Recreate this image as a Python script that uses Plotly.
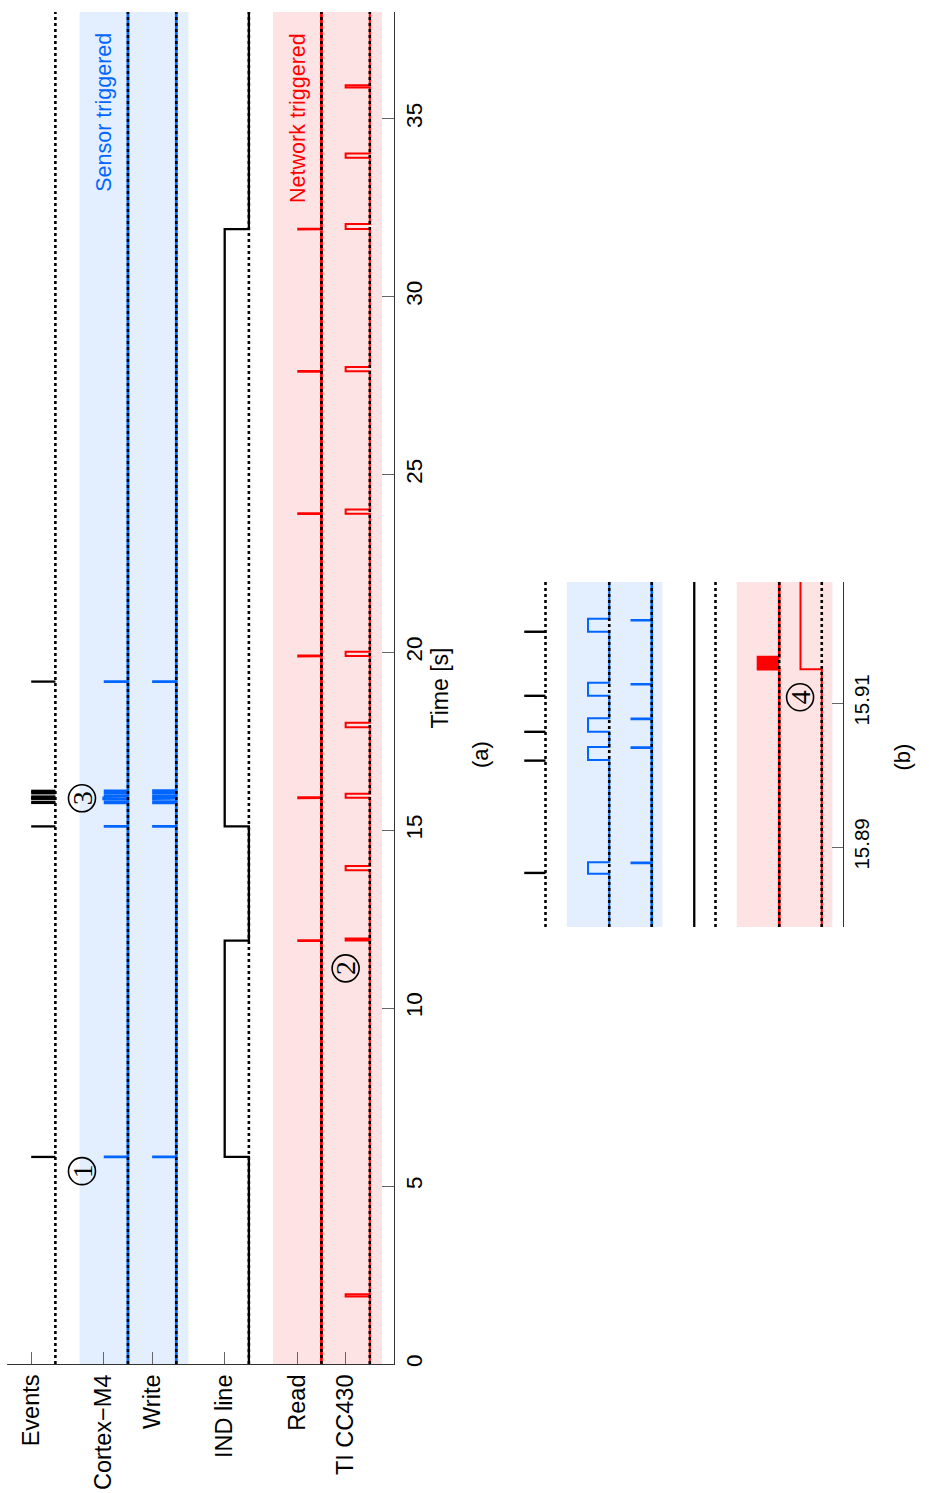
import plotly.graph_objects as go

# ---------------------------------------------------------------------------
# Channel rows (horizontal "level" axis): label position and signal levels
# ---------------------------------------------------------------------------
channel_names = ["Events", "Cortex−M4", "Write", "IND line", "Read", "TI CC430"]
channel_ticks = [1, 4, 6, 9, 12, 14]

# Sensor events [s]
event_times = [5.82, 15.11, 15.77, 15.80, 15.8864, 15.9020, 15.9060, 15.9110,
               15.9199, 15.95, 16.04, 16.08, 16.11, 19.18]

# Cortex-M4 busy intervals [s]
cortex_start = [5.82, 15.11, 15.77, 15.80, 15.8863, 15.9021, 15.9060, 15.9110,
                15.9199, 15.95, 16.04, 16.08, 16.11, 19.18]
cortex_end = [5.8217, 15.1117, 15.7717, 15.8017, 15.8879, 15.9039, 15.9079,
              15.9128, 15.9217, 15.9517, 16.0417, 16.0817, 16.1117, 19.1817]

# Write accesses [s]
write_times = [5.8217, 15.1117, 15.7717, 15.8017, 15.8878, 15.9038, 15.9078,
               15.9126, 15.9215, 15.9517, 16.0417, 16.0817, 16.1117, 19.1817]

# IND line transitions [s]
ind_rise = [5.82, 15.11]
ind_fall = [11.90, 31.90]

# Read bursts [s]
read_start = [11.90, 15.9147, 19.90, 23.90, 27.90, 31.90]
read_end = [11.9017, 15.9164, 19.9017, 23.9017, 27.9017, 31.9017]

# TI CC430 active intervals [s]
ti_start = [1.90, 11.90, 13.88, 15.9147, 17.90, 19.90, 23.90, 27.90, 31.90, 33.90, 35.88]
ti_end = [1.96, 11.96, 14.00, 16.03, 18.02, 20.02, 24.02, 28.02, 32.04, 34.02, 35.94]

# Time ticks
main_ticks = [0, 5, 10, 15, 20, 25, 30, 35]
zoom_ticks = [15.89, 15.91]
zoom_ticktext = ["15.89", "15.91"]

T_MIN, T_MAX = 0.0, 38.0
ZOOM_RANGE = [15.87889, 15.92681]

# signal levels (baseline / high) per channel
EV_BASE, EV_HIGH = 2, 1
CM_BASE, CM_HIGH = 5, 4
WR_BASE, WR_HIGH = 7, 6
IND_BASE, IND_HIGH = 10, 9
RD_BASE, RD_HIGH = 13, 12
TI_BASE, TI_HIGH = 15, 14

BLUE = "#0066ff"
RED = "#ff0000"
BLUE_BAND = "#e3eefe"
RED_BAND = "#fde3e3"
FONT = "Liberation Sans, Arial, sans-serif"
DOTS = "3px,3px"


def step_path(starts, ends, base, high):
    xs, ys = [base], [T_MIN]
    for s, e in zip(starts, ends):
        xs += [base, high, high, base]
        ys += [s, s, e, e]
    xs.append(base)
    ys.append(T_MAX)
    return xs, ys


def spikes(times, base, high):
    xs, ys = [], []
    for t in times:
        xs += [base, high, None]
        ys += [t, t, None]
    return xs, ys


fig = go.Figure()


def add_panel(xa, ya, w_spike, w_line, w_event):
    def line(xs, ys, color, width, dash=None, fill=None):
        fig.add_trace(go.Scatter(
            x=xs, y=ys, mode="lines", xaxis=xa, yaxis=ya,
            line=dict(color=color, width=width, dash=dash),
            fill=fill, fillcolor=color if fill else None,
            hoverinfo="skip", showlegend=False))

    # coloured signals
    x, y = step_path(cortex_start, cortex_end, CM_BASE, CM_HIGH)
    line(x, y, BLUE, w_line if xa == "x2" else w_spike)
    x, y = step_path(write_times, write_times, WR_BASE, WR_HIGH)
    line(x, y, BLUE, w_spike)
    x, y = step_path(read_start, read_end, RD_BASE, RD_HIGH)
    line(x, y, RED, w_spike, fill="toself")
    x, y = step_path(ti_start, ti_end, TI_BASE, TI_HIGH)
    line(x, y, RED, w_line)

    # dotted baselines
    for base in [EV_BASE, CM_BASE, WR_BASE, IND_BASE, RD_BASE, TI_BASE]:
        line([base, base], [T_MIN, T_MAX], "black", 2.6, dash=DOTS)

    # events and IND line
    x, y = spikes(event_times, EV_BASE, EV_HIGH)
    line(x, y, "black", w_event)
    x, y = step_path(ind_rise, ind_fall, IND_BASE, IND_HIGH)
    line(x, y, "black", w_line + 0.3)


add_panel("x", "y", 2.8, 2.0, 2.3)
add_panel("x2", "y2", 2.6, 2.0, 2.4)

# shaded groups
shapes = []
for xr, yr in [("x", "y domain"), ("x2", "y2 domain")]:
    shapes.append(dict(type="rect", xref=xr, yref=yr, x0=3.0, x1=7.5, y0=0, y1=1,
                       fillcolor=BLUE_BAND, line_width=0, layer="below"))
    shapes.append(dict(type="rect", xref=xr, yref=yr, x0=11.0, x1=15.5, y0=0, y1=1,
                       fillcolor=RED_BAND, line_width=0, layer="below"))

# circled markers
markers = [("x", "y", 3.1, 5.42, "1"), ("x", "y", 14.0, 11.12, "2"),
           ("x", "y", 3.1, 15.90, "3"), ("x2", "y2", 13.98, 15.9108, "4")]
annotations = []
for xr, yr, mx, my, txt in markers:
    shapes.append(dict(type="circle", xref=xr, yref=yr, xsizemode="pixel",
                       ysizemode="pixel", xanchor=mx, yanchor=my,
                       x0=-13.5, x1=13.5, y0=-13.5, y1=13.5,
                       line=dict(color="black", width=1.6), layer="above"))
    annotations.append(dict(xref=xr, yref=yr, x=mx, y=my, text=txt, showarrow=False,
                            textangle=-90, xanchor="center", yanchor="middle",
                            font=dict(family="Liberation Serif, serif", size=28,
                                      color="black")))

annotations += [
    dict(xref="x", yref="y", x=4.0, y=35.19, text="Sensor triggered", showarrow=False,
         textangle=-90, font=dict(family=FONT, size=21.5, color=BLUE)),
    dict(xref="x", yref="y", x=12.0, y=35.03, text="Network triggered", showarrow=False,
         textangle=-90, font=dict(family=FONT, size=21.5, color=RED)),
    dict(xref="paper", yref="paper", x=480 / 929, y=1 - 755 / 1493, text="(a)",
         showarrow=False, textangle=-90, font=dict(family=FONT, size=22, color="black")),
    dict(xref="paper", yref="paper", x=916 / 929, y=1 - 757 / 1493, text="(b)",
         showarrow=False, textangle=-90, font=dict(family=FONT, size=22, color="black")),
]

axis_common = dict(showgrid=False, zeroline=False, automargin=False,
                   linecolor="#333333", linewidth=1.2, tickcolor="#666666",
                   tickwidth=1.2, ticks="inside")

fig.update_layout(
    width=929, height=1493,
    margin=dict(l=0, r=0, t=0, b=0),
    paper_bgcolor="white", plot_bgcolor="rgba(0,0,0,0)",
    font=dict(family=FONT, color="black"),
    shapes=shapes, annotations=annotations,
    xaxis=dict(axis_common, domain=[7 / 929, 394 / 929], range=[0, 16],
               anchor="y", side="bottom", showline=True, ticklen=12,
               tickmode="array", tickvals=channel_ticks, ticktext=channel_names,
               tickangle=-90, tickfont=dict(size=23.5)),
    yaxis=dict(axis_common, domain=[1 - 1364 / 1493, 1 - 12 / 1493], range=[T_MIN, T_MAX],
               anchor="x", side="right", showline=True, ticklen=12,
               tickmode="array", tickvals=main_ticks,
               tickangle=-90, tickfont=dict(size=22.5),
               title=dict(text="Time [s]", font=dict(size=23), standoff=2)),
    xaxis2=dict(axis_common, domain=[503 / 929, 843 / 929], range=[0, 16],
                anchor="y2", visible=False),
    yaxis2=dict(axis_common, domain=[1 - 927 / 1493, 1 - 582 / 1493], range=ZOOM_RANGE,
                anchor="x2", side="right", showline=True, ticklen=11,
                tickmode="array", tickvals=zoom_ticks, ticktext=zoom_ticktext,
                tickangle=-90, tickfont=dict(size=20.5)),
)

fig.write_html("out.html")
